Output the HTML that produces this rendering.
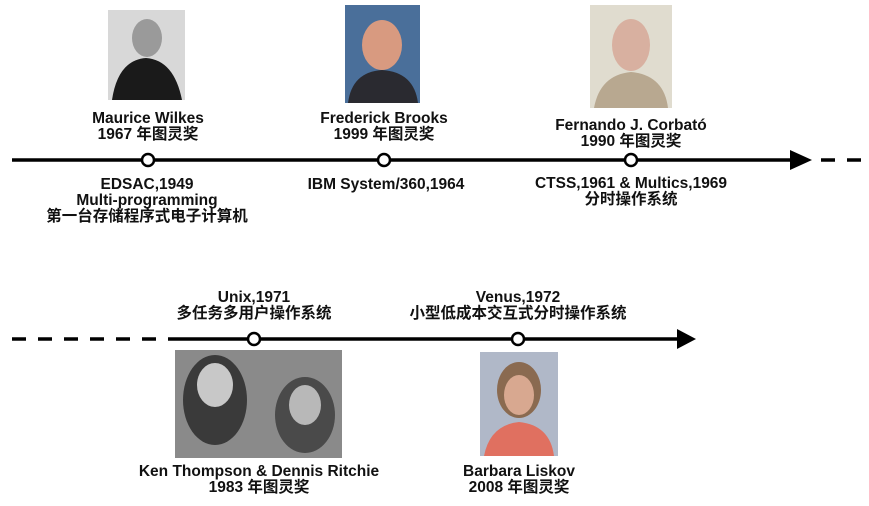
<!DOCTYPE html>
<html><head><meta charset="utf-8"><style>
body{margin:0;width:869px;height:506px;background:#fff;position:relative;overflow:hidden;font-family:"Liberation Sans","Noto Sans CJK SC",sans-serif;}
.t{position:absolute;font-weight:bold;font-size:15.5px;line-height:16px;text-align:center;color:#111;white-space:nowrap;transform:translateX(-50%);}
svg{position:absolute;left:0;top:0}
</style></head><body>
<svg width="869" height="506">
<rect x="108" y="10" width="77" height="90" fill="#d8d8d8"/>
<path d="M112 100 Q118 60 146 58 Q174 60 182 100Z" fill="#1a1a1a"/>
<ellipse cx="147" cy="38" rx="15" ry="19" fill="#9a9a9a"/>
<rect x="345" y="5" width="75" height="98" fill="#4a6f9a"/>
<path d="M348 103 Q352 72 382 70 Q414 72 418 103Z" fill="#2a2a30"/>
<ellipse cx="382" cy="45" rx="20" ry="25" fill="#d89a80"/>
<rect x="590" y="5" width="82" height="103" fill="#e0dccf"/>
<path d="M594 108 Q600 75 631 72 Q664 75 668 108Z" fill="#b8a890"/>
<ellipse cx="631" cy="45" rx="19" ry="26" fill="#d8b0a0"/>
<rect x="175" y="350" width="167" height="108" fill="#8a8a8a"/>
<ellipse cx="215" cy="400" rx="32" ry="45" fill="#3a3a3a"/>
<ellipse cx="215" cy="385" rx="18" ry="22" fill="#c8c8c8"/>
<ellipse cx="305" cy="415" rx="30" ry="38" fill="#4a4a4a"/>
<ellipse cx="305" cy="405" rx="16" ry="20" fill="#b8b8b8"/>
<rect x="480" y="352" width="78" height="104" fill="#b0b8c8"/>
<path d="M484 456 Q490 425 519 422 Q550 425 554 456Z" fill="#e07060"/>
<ellipse cx="519" cy="390" rx="22" ry="28" fill="#8a6a50"/>
<ellipse cx="519" cy="395" rx="15" ry="20" fill="#d8a890"/>
<line x1="12" y1="160" x2="795" y2="160" stroke="#000" stroke-width="3.5"/>
<polygon points="790,150 812,160 790,170" fill="#000"/>
<line x1="821" y1="160" x2="866" y2="160" stroke="#000" stroke-width="3.5" stroke-dasharray="14,12"/>
<circle cx="148" cy="160" r="6" fill="#fff" stroke="#000" stroke-width="2.5"/>
<circle cx="384" cy="160" r="6" fill="#fff" stroke="#000" stroke-width="2.5"/>
<circle cx="631" cy="160" r="6" fill="#fff" stroke="#000" stroke-width="2.5"/>
<line x1="12" y1="339" x2="172" y2="339" stroke="#000" stroke-width="3.5" stroke-dasharray="14,12"/>
<line x1="172" y1="339" x2="682" y2="339" stroke="#000" stroke-width="3.5"/>
<polygon points="677,329 696,339 677,349" fill="#000"/>
<circle cx="254" cy="339" r="6" fill="#fff" stroke="#000" stroke-width="2.5"/>
<circle cx="518" cy="339" r="6" fill="#fff" stroke="#000" stroke-width="2.5"/>
</svg>
<div class="t" style="left:148px;top:111px">Maurice Wilkes<br>1967 年图灵奖</div>
<div class="t" style="left:384px;top:111px">Frederick Brooks<br>1999 年图灵奖</div>
<div class="t" style="left:631px;top:118px">Fernando J. Corbató<br>1990 年图灵奖</div>
<div class="t" style="left:147px;top:177px">EDSAC,1949<br>Multi-programming<br>第一台存储程序式电子计算机</div>
<div class="t" style="left:386px;top:177px">IBM System/360,1964</div>
<div class="t" style="left:631px;top:176px">CTSS,1961 &amp; Multics,1969<br>分时操作系统</div>
<div class="t" style="left:254px;top:290px">Unix,1971<br>多任务多用户操作系统</div>
<div class="t" style="left:518px;top:290px">Venus,1972<br>小型低成本交互式分时操作系统</div>
<div class="t" style="left:259px;top:464px">Ken Thompson &amp; Dennis Ritchie<br>1983 年图灵奖</div>
<div class="t" style="left:519px;top:464px">Barbara Liskov<br>2008 年图灵奖</div>
</body></html>
